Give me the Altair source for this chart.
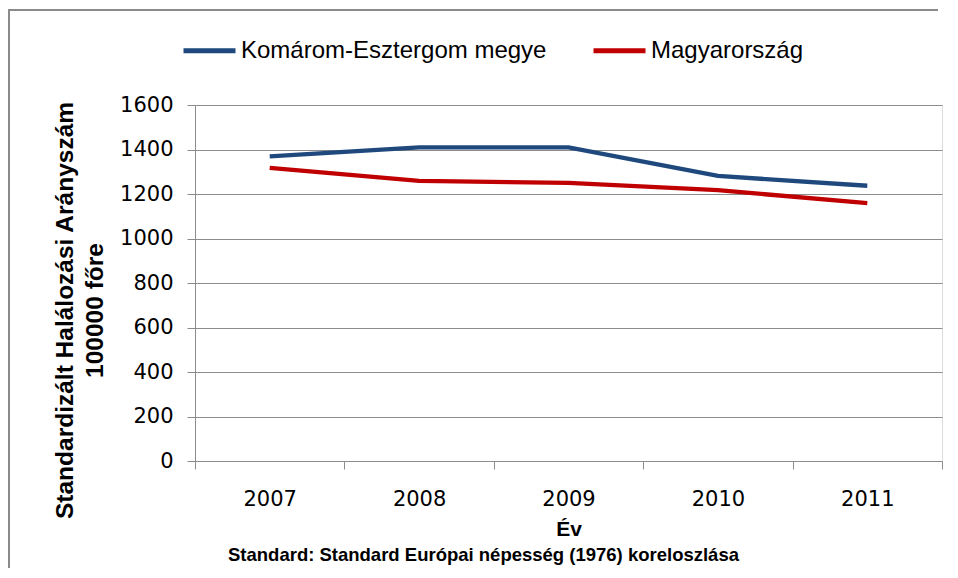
import altair as alt
import pandas as pd

years = ["2007", "2008", "2009", "2010", "2011"]
series_names = ["Komárom-Esztergom megye", "Magyarország"]
komarom = [1369, 1410, 1410, 1281, 1237]
magyarorszag = [1317, 1259, 1250, 1217, 1159]
series_colors = ["#1F497D", "#C00000"]
y_ticks = [0, 200, 400, 600, 800, 1000, 1200, 1400, 1600]
footnote = "Standard: Standard Európai népesség (1976) koreloszlása"

rows = []
for name, vals in zip(series_names, [komarom, magyarorszag]):
    for yr, v in zip(years, vals):
        rows.append({"Év": yr, "Sorozat": name, "Érték": v})
df = pd.DataFrame(rows)

W, H = 747, 356
PAD_L, PAD_T, PAD_R, PAD_B = 187, 97, 4, 109
GRID = "#8C8C8C"
FRAME = "#8A8A8A"

base_one = alt.Chart(pd.DataFrame({"f": [0]}))
frame_left = base_one.mark_rule(stroke=FRAME, strokeWidth=2).encode(
    x=alt.value(-186), y=alt.value(-95), y2=alt.value(H + PAD_B - 2),
)
frame_top = base_one.mark_rule(stroke=FRAME, strokeWidth=2).encode(
    x=alt.value(-187), x2=alt.value(W - 4), y=alt.value(-95),
)
note = base_one.mark_text(
    align="left", baseline="middle", font="Liberation Sans",
    fontSize=18.5, fontWeight="bold", color="black",
).encode(x=alt.value(33), y=alt.value(450), text=alt.value(footnote))

lines = alt.Chart(df).mark_line(strokeWidth=4.3).encode(
    x=alt.X("Év:N", sort=years,
            scale=alt.Scale(type="band", paddingInner=0, paddingOuter=0),
            axis=alt.Axis(title="Év", labelAngle=0, tickBand="extent",
                          grid=False, domainColor=GRID, tickColor=GRID,
                          tickSize=8, labelPadding=19,
                          labelFont="DejaVu Sans", labelFontSize=21,
                          labelColor="black",
                          titleFont="Liberation Sans", titleFontSize=21,
                          titleFontWeight="bold", titleColor="black",
                          titlePadding=9)),
    y=alt.Y("Érték:Q",
            scale=alt.Scale(domain=[0, 1600], nice=False),
            axis=alt.Axis(values=y_ticks, format="d", grid=True, gridColor=GRID,
                          domainColor=GRID, tickColor=GRID, tickSize=8,
                          labelPadding=14, labelFont="DejaVu Sans",
                          labelFontSize=21, labelColor="black",
                          title=["Standardizált Halálozási  Arányszám", "100000 főre"],
                          titleFont="Liberation Sans", titleFontSize=24.5,
                          titleFontWeight="bold", titleColor="black",
                          titleAngle=270, titleAlign="center",
                          titleBaseline="alphabetic", titleLineHeight=30,
                          titleX=-123, titleY=205)),
    color=alt.Color("Sorozat:N",
                    scale=alt.Scale(domain=series_names, range=series_colors),
                    legend=alt.Legend(title=None, orient="none",
                                      direction="horizontal",
                                      legendX=-14, legendY=-83,
                                      symbolType="stroke", symbolSize=2704,
                                      symbolStrokeWidth=5, labelOffset=3,
                                      columnPadding=36, labelLimit=500,
                                      labelFont="Liberation Sans",
                                      labelFontSize=24, labelColor="black")),
)

chart = alt.layer(frame_left, frame_top, note, lines).properties(
    width=W, height=H,
    padding={"left": PAD_L, "top": PAD_T, "right": PAD_R, "bottom": PAD_B},
    autosize=alt.AutoSizeParams(type="none"),
).configure_view(stroke=None).configure(background="white")

chart.save("out.html", embed_options={"renderer": "svg", "actions": False})
